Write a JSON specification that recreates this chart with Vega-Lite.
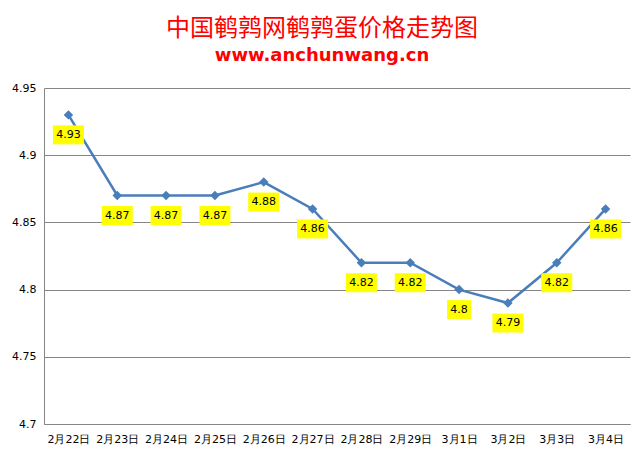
{
  "$schema": "https://vega.github.io/schema/vega-lite/v6.json",
  "description": "quail egg price trend line chart",
  "autosize": "none",
  "width": 586,
  "height": 336,
  "padding": {"left": 44, "top": 88, "right": 14, "bottom": 36},
  "background": "white",
  "title": {
    "text": "中国鹌鹑网鹌鹑蛋价格走势图",
    "subtitle": "www.anchunwang.cn",
    "anchor": "middle",
    "dx": -15,
    "offset": 17,
    "font": "Noto Sans CJK SC",
    "fontSize": 24,
    "fontWeight": "normal",
    "color": "#ff0000",
    "subtitleFont": "DejaVu Sans",
    "subtitleFontSize": 18,
    "subtitleFontWeight": "bold",
    "subtitleColor": "#ff0000",
    "subtitlePadding": 6
  },
  "config": {
    "view": {"stroke": null},
    "axis": {
      "labelFont": "DejaVu Sans",
      "labelFontSize": 11,
      "labelColor": "#000000",
      "domainColor": "#868686",
      "ticks": false,
      "title": null
    }
  },
  "data": {
    "values": [
      {"date": "2月22日", "price": 4.93},
      {"date": "2月23日", "price": 4.87},
      {"date": "2月24日", "price": 4.87},
      {"date": "2月25日", "price": 4.87},
      {"date": "2月26日", "price": 4.88},
      {"date": "2月27日", "price": 4.86},
      {"date": "2月28日", "price": 4.82},
      {"date": "2月29日", "price": 4.82},
      {"date": "3月1日", "price": 4.8},
      {"date": "3月2日", "price": 4.79},
      {"date": "3月3日", "price": 4.82},
      {"date": "3月4日", "price": 4.86}
    ]
  },
  "encoding": {
    "x": {
      "field": "date",
      "type": "ordinal",
      "sort": null,
      "scale": {"type": "point", "padding": 0.5},
      "axis": {"labelAngle": 0, "labelPadding": 9, "grid": false}
    },
    "y": {
      "field": "price",
      "type": "quantitative",
      "scale": {"domain": [4.7, 4.95], "zero": false, "nice": false},
      "axis": {
        "values": [4.7, 4.75, 4.8, 4.85, 4.9, 4.95],
        "format": "~g",
        "labelPadding": 8,
        "grid": true,
        "gridColor": "#868686",
        "gridOpacity": 1
      }
    }
  },
  "layer": [
    {
      "mark": {"type": "line", "color": "#4a7ebb", "strokeWidth": 2.5}
    },
    {
      "mark": {"type": "point", "shape": "diamond", "filled": true, "size": 90, "color": "#4a7ebb", "opacity": 1}
    },
    {
      "mark": {"type": "point", "filled": true, "color": "#ffff00", "opacity": 1, "yOffset": 20},
      "encoding": {
        "shape": {
          "condition": {"test": "datum.price == 4.8", "value": "M-1,-0.79H1V0.79H-1Z"},
          "value": "M-1,-0.613H1V0.613H-1Z"
        },
        "size": {
          "condition": {"test": "datum.price == 4.8", "value": 576},
          "value": 961
        }
      }
    },
    {
      "mark": {"type": "text", "font": "DejaVu Sans", "fontSize": 11, "color": "#000000", "yOffset": 20, "baseline": "middle"},
      "encoding": {"text": {"field": "price", "type": "quantitative"}}
    }
  ]
}
